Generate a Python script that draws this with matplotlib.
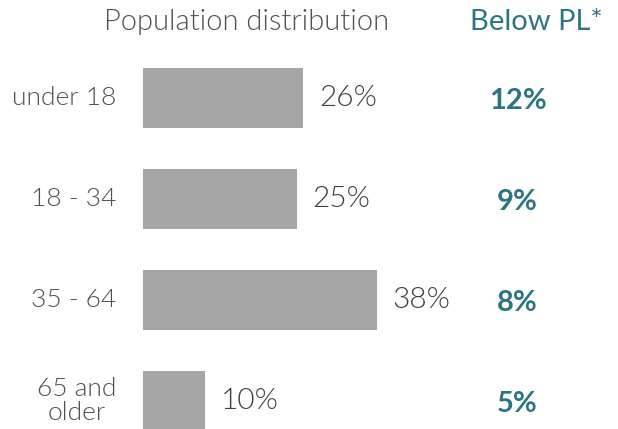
import matplotlib.pyplot as plt
from matplotlib import font_manager as fm

categories = ['under 18', '18 - 34', '35 - 64', '65 and\nolder']
population_pct = [26, 25, 38, 10]
below_pl_pct = [12, 9, 8, 5]

gray_bar = '#a6a6a6'
gray_text = '#505050'
teal = '#2e7582'

plt.rcParams['font.family'] = ['Lato', 'DejaVu Sans']

# pick Lato Light by file so the weight matching doesn't drift to Thin
light_path = next((f.fname for f in fm.fontManager.ttflist
                   if f.fname.endswith('Lato-Light.ttf')), None)
def light(size):
    if light_path:
        return fm.FontProperties(fname=light_path, size=size)
    return fm.FontProperties(family='Lato', weight='light', size=size)

fig = plt.figure(figsize=(6.18, 4.29), dpi=100)
# axes starts at the bar origin, 1% = ~6.15 px
ax = fig.add_axes([143 / 618, 0, 475 / 618, 1])
ax.set_xlim(0, 475 / 6.15)
ax.set_ylim((429 - 98) / 101, -98 / 101)
ax.axis('off')

ypos = list(range(len(categories)))
ax.barh(ypos, population_pct, height=0.594, color=gray_bar)

for y, cat, pct, pl in zip(ypos, categories, population_pct, below_pl_pct):
    ax.annotate(cat, xy=(0, y), xytext=(-19, 0), textcoords='offset points',
                ha='right', va='center', multialignment='center',
                fontproperties=light(19), color=gray_text,
                linespacing=1.05, annotation_clip=False)
    ax.annotate(f'{pct}%', xy=(pct, y), xytext=(11.5, 0), textcoords='offset points',
                ha='left', va='center', fontproperties=light(21.5), color='#404040')
    ax.text(60.9, y + 0.03, f'{pl}%', ha='center', va='center', fontsize=21,
            color=teal, fontweight='bold')

fig.text(247 / 618, 1 - 22 / 429, 'Population distribution', ha='center', va='center',
         fontproperties=light(21), color=gray_text)
fig.text(536 / 618, 1 - 22 / 429, 'Below PL*', ha='center', va='center',
         fontsize=21, color=teal)

fig.savefig('out.png', dpi=100)
